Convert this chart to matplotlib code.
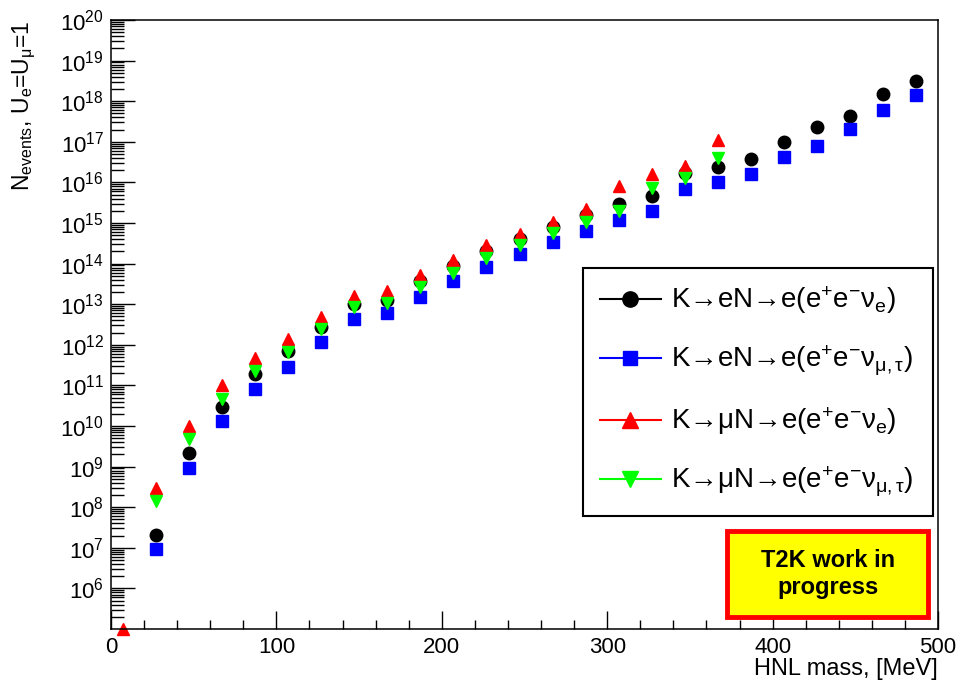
import numpy as np
import matplotlib
matplotlib.use('Agg')
import matplotlib.pyplot as plt
from matplotlib.lines import Line2D
from matplotlib.patches import Rectangle
from matplotlib.ticker import FixedLocator, LogFormatterMathtext, MultipleLocator, NullFormatter

plt.rcParams['font.family'] = ['Liberation Sans', 'DejaVu Sans']
plt.rcParams['mathtext.fontset'] = 'custom'
plt.rcParams['mathtext.rm'] = 'Liberation Sans'
plt.rcParams['mathtext.it'] = 'Liberation Sans'
plt.rcParams['mathtext.bf'] = 'Liberation Sans:bold'

# HNL mass points [MeV]
mass_e = [27, 47, 67, 87, 107, 127, 147, 167, 187, 207, 227, 247, 267, 287, 307,
          327, 347, 367, 387, 407, 427, 447, 467, 487]
mass_mu = [7, 27, 47, 67, 87, 107, 127, 147, 167, 187, 207, 227, 247, 267, 287,
           307, 327, 347, 367]

# K -> eN -> e(e+ e- nu_e)
n_e_nue = [2.1e7, 2.2e9, 2.9e10, 1.9e11, 7.0e11, 2.8e12, 1.0e13, 1.3e13, 3.8e13,
           8.7e13, 2.0e14, 4.0e14, 8.1e14, 1.6e15, 2.9e15, 4.6e15, 1.7e16, 2.4e16,
           3.7e16, 1.0e17, 2.3e17, 4.4e17, 1.5e18, 3.2e18]
# K -> eN -> e(e+ e- nu_mu,tau)
n_e_numt = [9.5e6, 9.4e8, 1.3e10, 8.0e10, 2.9e11, 1.2e12, 4.3e12, 6.0e12, 1.5e13,
            3.8e13, 8.1e13, 1.7e14, 3.5e14, 6.5e14, 1.2e15, 2.0e15, 6.9e15, 1.05e16,
            1.6e16, 4.3e16, 8.0e16, 2.1e17, 6.0e17, 1.4e18]
# K -> muN -> e(e+ e- nu_e)
n_mu_nue = [1.0e5, 3.0e8, 1.0e10, 1.0e11, 4.7e11, 1.4e12, 4.9e12, 1.6e13, 2.1e13,
            5.2e13, 1.2e14, 2.9e14, 5.4e14, 1.07e15, 2.2e15, 8.3e15, 1.6e16, 2.5e16,
            1.1e17]
# K -> muN -> e(e+ e- nu_mu,tau)
n_mu_numt = [np.nan, 1.4e8, 4.8e9, 4.7e10, 2.2e11, 6.5e11, 2.4e12, 8.3e12, 1.05e13,
             2.6e13, 6.0e13, 1.35e14, 2.8e14, 5.6e14, 1.07e15, 2.0e15, 7.1e15, 1.3e16,
             4.1e16]

labels = ['K→eN→e(e$^{+}$e$^{-}$ν$_{\\rm e}$)',
          'K→eN→e(e$^{+}$e$^{-}$ν$_{\\mu,\\tau}$)',
          'K→μN→e(e$^{+}$e$^{-}$ν$_{\\rm e}$)',
          'K→μN→e(e$^{+}$e$^{-}$ν$_{\\mu,\\tau}$)']

fig = plt.figure(figsize=(9.61, 6.84), dpi=100)
ax = fig.add_axes([111 / 961, 1 - 629 / 684, 827 / 961, 609 / 684])

ms = 9
ax.plot(mass_e, n_e_nue, 'o', color='black', ms=ms, label=labels[0])
ax.plot(mass_e, n_e_numt, 's', color='#0000ff', ms=ms - 0.5, label=labels[1])
ax.plot(mass_mu, n_mu_nue, '^', color='#ff0000', ms=ms, label=labels[2], clip_on=False)
ax.plot(mass_mu, n_mu_numt, 'v', color='#00ff00', ms=ms, label=labels[3])

ax.set_yscale('log')
ax.set_xlim(0, 500)
ax.set_ylim(1e5, 1e20)

ax.yaxis.set_major_locator(FixedLocator([10.0 ** k for k in range(6, 21)]))
ax.yaxis.set_major_formatter(LogFormatterMathtext())
minors = [m * 10.0 ** k for k in range(5, 20) for m in range(2, 10)]
ax.yaxis.set_minor_locator(FixedLocator(minors))
ax.yaxis.set_minor_formatter(NullFormatter())
ax.xaxis.set_major_locator(MultipleLocator(100))
ax.xaxis.set_minor_locator(MultipleLocator(20))

ax.tick_params(axis='both', which='both', direction='in', top=False, right=False,
               labelsize=16, width=1.0, color='black')
ax.tick_params(axis='y', which='major', length=17, pad=5)
ax.tick_params(axis='y', which='minor', length=9)
ax.tick_params(axis='x', which='major', length=13, pad=6)
ax.tick_params(axis='x', which='minor', length=6.5)
for sp in ax.spines.values():
    sp.set_linewidth(1.1)

ax.set_xlabel('HNL mass, [MeV]', fontsize=17, loc='right')
ax.xaxis.set_label_coords(1.0, -0.047)
ax.set_ylabel(r'N$_{\rm events}$, U$_{\rm e}$=U$_{\mu}$=1', fontsize=16.5, loc='top')
ax.yaxis.set_label_coords(-0.088, 1.0)

# legend: line through marker, as ROOT draws it
leg_handles = [
    Line2D([0], [0], color='black', lw=1.5, marker='o', ms=11),
    Line2D([0], [0], color='#0000ff', lw=1.5, marker='s', ms=10.5),
    Line2D([0], [0], color='#ff0000', lw=1.5, marker='^', ms=11),
    Line2D([0], [0], color='#00ff00', lw=1.5, marker='v', ms=11),
]
leg = ax.legend(leg_handles, labels, loc='upper left',
                bbox_to_anchor=(0.571, 0.182, 0.4225, 0.411), mode='expand',
                fontsize=20, frameon=True, fancybox=False, edgecolor='black',
                framealpha=1.0, handlelength=2.2, handletextpad=0.35,
                labelspacing=1.0, borderpad=0.6, borderaxespad=0)
leg.get_frame().set_linewidth(1.5)

# work-in-progress box
ax.add_patch(Rectangle((0.745, 0.0197), 0.243, 0.141, transform=ax.transAxes,
                       facecolor='#ffff00', edgecolor='#ff0000', lw=3.5, zorder=5))
ax.text(0.8665, 0.090, 'T2K work in\nprogress', transform=ax.transAxes,
        ha='center', va='center', fontsize=17, fontweight='bold', linespacing=1.2,
        zorder=6)

fig.savefig('out.png', dpi=100)
